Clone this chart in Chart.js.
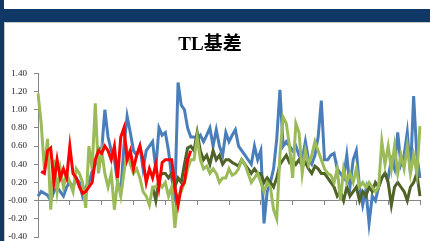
<!DOCTYPE html>
<html lang="zh">
<head>
  <meta charset="UTF-8">
  <title>TL基差</title>
  <script src="https://cdn.jsdelivr.net/npm/chart.js"></script>
  <style>
    body {
      margin: 0;
      background: #fff;
    }
    #wrap {
      position: relative;
      width: 430px;
      height: 241px;
      overflow: hidden;
      background: #fff;
    }
    .bar { position: absolute; background: #0f3867; }
    .edge { position: absolute; background: #c9c9c9; }
    canvas { position: absolute; left: 0; top: 0; }
  </style>
</head>
<body>
  <div id="wrap">
    <div class="bar" style="left:0;top:0;width:4px;height:241px"></div>
    <div class="bar" style="left:0;top:9px;width:430px;height:13px"></div>
    <div class="edge" style="left:4px;top:22px;width:1px;height:219px"></div>
    <div class="edge" style="left:4px;top:22px;width:426px;height:1px"></div>
    <canvas id="chart" width="430" height="241"></canvas>
  </div>

  <script>
    // 数据
    const blue = [0.05, 0.10, 0.08, 0.06, 0.00, 0.10, 0.15, 0.10, 0.05, 0.15,
      0.20, 0.15, 0.25, 0.20, 0.05, 0.15, 0.20, 0.32, 0.40, 0.58,
      0.55, 1.00, 0.70, 0.55, 0.45, 0.20, 0.10, 0.60, 0.93, 0.75,
      0.55, 0.50, 0.60, 0.35, 0.55, 0.60, 0.65, 0.35, 0.80, 0.72,
      0.75, 0.55, 0.25, 0.05, 1.30, 1.05, 1.00, 0.80, 0.70, 0.70,
      0.68, 0.72, 0.65, 0.72, 0.80, 0.60, 0.78, 0.60, 0.50, 0.75,
      0.65, 0.72, 0.78, 0.60, 0.55, 0.50, 0.45, 0.40, 0.60, 0.45,
      0.55, -0.25, 0.10, 0.20, 0.35, 0.68, 1.22, 0.60, 0.65, 0.60,
      0.55, 0.60, 0.50, 0.45, 0.65, 0.45, 0.40, 0.50, 0.70, 1.10,
      0.45, 0.45, 0.50, 0.52, 0.35, 0.30, 0.25, 0.50, 0.15, 0.45,
      0.55, 0.15, -0.05, 0.12, -0.25, 0.05, 0.00, 0.15, 0.25, 0.30,
      0.25, 0.45, 0.35, 0.75, 0.40, 0.50, 0.75, 0.30, 1.15, 0.50,
      0.25];

    const green = [1.18, 0.85, 0.35, 0.68, -0.10, 0.45, 0.10, 0.35, 0.15, 0.30,
      0.20, 0.10, 0.35, 0.30, 0.20, -0.08, 0.60, 0.35, 1.07, 0.30,
      0.55, 0.30, 0.15, 0.30, -0.10, 0.22, 0.05, 0.30, 0.55, 0.40,
      0.30, 0.35, 0.25, 0.10, 0.05, -0.05, 0.15, 0.15, 0.20, 0.15,
      0.20, 0.05, 0.15, -0.30, 0.05, 0.10, 0.20, 0.35, 0.45, 0.45,
      0.70, 0.45, 0.35, 0.38, 0.30, 0.35, 0.30, 0.20, 0.25, 0.25,
      0.35, 0.28, 0.30, 0.35, 0.45, 0.40, 0.30, 0.20, 0.25, 0.30,
      0.20, 0.10, 0.20, 0.15, -0.10, -0.20, 0.50, 0.92, 0.85, 0.60,
      0.25, 0.85, 0.75, 0.30, 0.55, 0.40, 0.50, 0.65, 0.55, 0.45,
      0.35, 0.30, 0.28, 0.20, 0.35, 0.00, 0.35, 0.20, 0.30, 0.20,
      0.35, 0.15, 0.20, 0.15, 0.20, 0.15, 0.10, 0.15, 0.65, 0.40,
      0.60, 0.35, 0.60, 0.30, 0.50, 0.35, 0.60, 0.30, 0.50, 0.30,
      0.82];

    const olive = [null, null, null, null, null, null, null, null, null, null,
      null, null, null, null, null, null, null, null, null, null,
      null, null, null, null, null, null, null, null, null, null,
      null, null, null, null, null, null, 0.15, 0.00, 0.25, 0.30,
      0.30, 0.25, 0.30, 0.15, 0.25, 0.20, 0.40, 0.58, 0.60, 0.55,
      0.75, 0.55, 0.45, 0.50, 0.40, 0.55, 0.45, 0.50, 0.40, 0.45,
      0.45, 0.42, 0.40, 0.38, 0.45, 0.40, 0.35, 0.30, 0.35, 0.30,
      0.30, 0.20, 0.25, 0.20, 0.15, 0.25, 0.40, 0.45, 0.50, 0.42,
      0.45, 0.40, 0.45, 0.38, 0.42, 0.35, 0.30, 0.38, 0.35, 0.30,
      0.30, 0.25, 0.20, 0.15, 0.05, 0.10, 0.00, 0.15, 0.05, 0.10,
      0.15, 0.00, 0.10, 0.05, 0.15, 0.10, 0.20, 0.15, 0.25, 0.30,
      0.20, -0.05, 0.15, 0.20, 0.15, 0.10, 0.00, 0.15, 0.20, 0.30,
      0.05];

    const red = [null, 0.32, 0.30, 0.55, 0.58, 0.20, 0.45, 0.25, 0.35, 0.25,
      0.60, 0.30, 0.25, 0.15, 0.08, 0.10, 0.15, 0.20, 0.45, 0.55,
      0.52, 0.60, 0.55, 0.45, 0.60, 0.25, 0.70, 0.80, 0.45, 0.55,
      0.35, 0.50, 0.60, 0.45, 0.20, 0.35, 0.25, 0.40, 0.15, 0.42,
      0.45, 0.45, 0.45, 0.15, -0.05, 0.15, 0.20, 0.45, 0.55];

    const labels = blue.map((_, i) => i + 1);
    const yMin = -0.4, yMax = 1.4, yStep = 0.2;

    const axisGray = '#868686';

    new Chart(document.getElementById('chart'), {
      type: 'line',
      data: {
        labels: labels,
        datasets: [
          { label: 'red', data: red, borderColor: '#ff0000', borderWidth: 3 },
          { label: 'green', data: green, borderColor: '#9bbb59', borderWidth: 3 },
          { label: 'olive', data: olive, borderColor: '#4f6228', borderWidth: 3 },
          { label: 'blue', data: blue, borderColor: '#4a7ebb', borderWidth: 3 }
        ]
      },
      options: {
        responsive: false,
        animation: false,
        devicePixelRatio: 1,
        elements: { point: { radius: 0 }, line: { tension: 0 } },
        layout: { padding: { left: 0, right: 10, top: 24, bottom: 4 } },
        plugins: {
          legend: { display: false },
          tooltip: { enabled: false },
          title: {
            display: true,
            text: 'TL基差',
            color: '#000',
            font: { family: '"Liberation Serif", "Noto Sans CJK SC", serif', size: 19, weight: 'bold', lineHeight: 1.2 },
            padding: { top: 10, bottom: 16.6 }
          }
        },
        scales: {
          x: {
            type: 'category',
            position: { y: 0 },
            ticks: { display: false, autoSkip: false },
            afterBuildTicks: (s) => { s.ticks = s.ticks.filter(t => t.value % 10 === 0); },
            afterFit: (s) => { s.paddingLeft = 0; s.paddingRight = 0; },
            grid: { drawOnChartArea: false, drawTicks: true, tickLength: 4, color: axisGray },
            border: { color: axisGray }
          },
          y: {
            min: yMin,
            max: yMax,
            afterFit: (s) => { s.width = 38; s.paddingTop = 0; s.paddingBottom = 0; },
            ticks: {
              stepSize: yStep,
              padding: 7,
              color: '#222',
              font: { family: '"Liberation Serif", serif', size: 9 },
              callback: (v) => v.toFixed(2)
            },
            grid: { drawOnChartArea: false, drawTicks: true, tickLength: 4, color: axisGray },
            border: { color: axisGray }
          }
        }
      }
    });
  </script>
</body>
</html>
